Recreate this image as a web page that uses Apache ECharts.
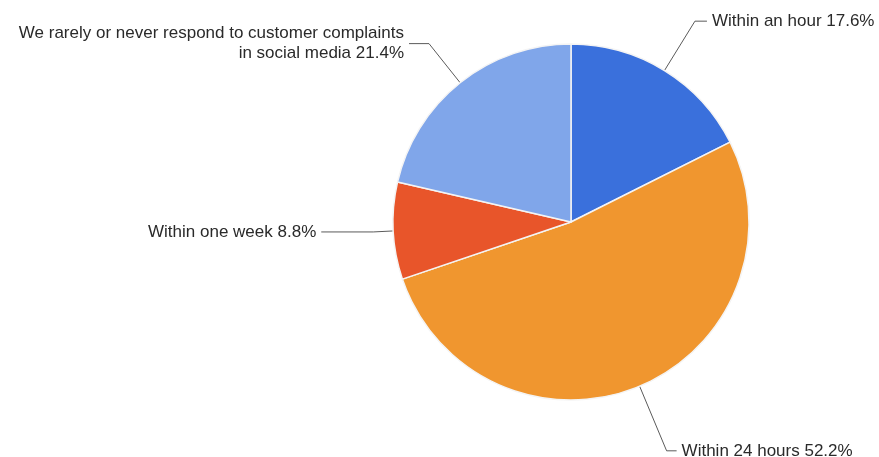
<!DOCTYPE html>
<html>
<head>
<meta charset="utf-8">
<script src="https://cdn.jsdelivr.net/npm/echarts@6/dist/echarts.min.js"></script>
<style>html,body{margin:0;padding:0;background:#fff}#c{width:879px;height:457px}</style>
</head>
<body>
<div id="c"></div>
<script>
const categories = ['Within an hour', 'Within 24 hours', 'Within one week', 'We rarely or never respond to customer complaints\nin social media'];
const values = [17.6, 52.2, 8.8, 21.4];
const colors = ['#3a70dc', '#f0962f', '#e8552a', '#80a6ea'];
const lineLengths = [[58, 12], [70, 10], [20, 52], [50, 20]];

const chart = echarts.init(document.getElementById('c'));
chart.setOption({
  animation: false,
  series: [{
    type: 'pie',
    center: [571, 222],
    radius: 178,
    startAngle: 90,
    clockwise: true,
    avoidLabelOverlap: false,
    itemStyle: { borderColor: '#f4f4f4', borderWidth: 1.5 },
    label: {
      show: true,
      formatter: p => p.name + ' ' + p.value.toFixed(1) + '%',
      fontFamily: 'Liberation Sans, Arial, sans-serif',
      fontSize: 17,
      color: '#2a2a2a',
      lineHeight: 20,
      distanceToLabelLine: 5
    },
    labelLine: { show: true, lineStyle: { color: '#5a5a5a', width: 1 } },
    data: categories.map((c, i) => ({
      name: c,
      value: values[i],
      itemStyle: { color: colors[i] },
      labelLine: { length: lineLengths[i][0], length2: lineLengths[i][1] }
    }))
  }]
});
</script>
</body>
</html>
